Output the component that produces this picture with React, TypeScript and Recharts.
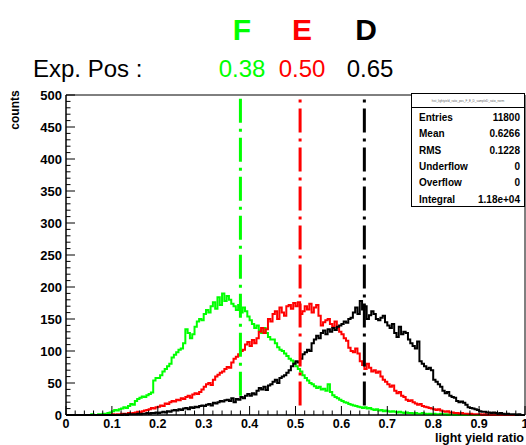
import { Line, LineChart, ReferenceArea, ReferenceLine, XAxis, YAxis } from "recharts";

// histogram bin width (light yield ratio)
const BIN = 0.005;

// counts per bin, sample F
const green = [
  0, 0, 0, 0, 0, 0, 0, 0, 0, 0,
  0, 1, 0, 0, 1, 1, 2, 1, 3, 4,
  6, 8, 7, 9, 10, 12, 11, 14, 17, 16,
  22, 25, 27, 29, 28, 31, 33, 35, 54, 58,
  58, 62, 68, 72, 76, 80, 90, 94, 98, 102,
  104, 112, 134, 128, 120, 126, 138, 146, 150, 148,
  158, 164, 160, 170, 176, 166, 184, 172, 190, 178,
  186, 180, 174, 170, 164, 172, 160, 168, 162, 154,
  148, 142, 136, 140, 132, 128, 136, 128, 122, 118,
  118, 112, 106, 102, 100, 96, 92, 88, 85, 82,
  76, 72, 68, 62, 58, 54, 50, 48, 45, 42,
  44, 40, 41, 38, 48, 36, 31, 28, 26, 24,
  22, 20, 19, 17, 16, 15, 14, 13, 12, 11,
  12, 10, 11, 9, 8, 9, 7, 8, 6, 7,
  6, 5, 6, 5, 4, 5, 4, 3, 4, 3,
  3, 2, 3, 2, 2, 3, 2, 1, 2, 1,
  2, 1, 1, 2, 1, 1, 0, 1, 1, 0,
  1, 0, 1, 0, 0, 1, 0, 0, 0, 0,
  0, 0, 0, 0, 0, 0, 0, 0, 0, 0,
  0, 0, 0, 0, 0, 0, 0, 0, 0, 0
];

// counts per bin, sample E
const red = [
  0, 0, 0, 0, 0, 0, 0, 0, 0, 0,
  0, 0, 0, 0, 0, 0, 0, 0, 0, 0,
  1, 0, 1, 1, 2, 2, 1, 3, 2, 3,
  4, 5, 4, 6, 7, 8, 9, 11, 10, 12,
  13, 15, 14, 18, 17, 20, 22, 21, 24, 23,
  26, 25, 28, 30, 27, 32, 34, 33, 36, 40,
  44, 48, 50, 47, 55, 60, 63, 66, 68, 72,
  75, 74, 82, 88, 91, 95, 100, 102, 110, 114,
  108, 117, 112, 120, 130, 136, 128, 134, 150, 146,
  158, 162, 150, 168, 160, 155, 170, 172, 166, 175,
  170, 176, 158, 162, 170, 165, 174, 160, 168, 172,
  155, 140, 145, 148, 150, 142, 138, 146, 136, 130,
  126, 120, 116, 105, 100, 98, 104, 96, 84, 78,
  72, 80, 74, 68, 70, 66, 68, 60, 55, 52,
  48, 44, 46, 38, 34, 36, 30, 28, 24, 22,
  23, 20, 18, 16, 17, 14, 13, 12, 11, 10,
  9, 8, 9, 7, 6, 5, 6, 4, 4, 3,
  3, 2, 3, 2, 2, 1, 2, 1, 1, 1,
  1, 0, 1, 0, 1, 0, 0, 1, 0, 0,
  0, 0, 0, 0, 0, 0, 0, 0, 0, 0
];

// counts per bin, sample D
const black = [
  0, 0, 0, 0, 0, 0, 0, 0, 0, 0,
  0, 0, 0, 0, 0, 0, 0, 0, 0, 0,
  0, 0, 0, 0, 0, 1, 0, 1, 1, 1,
  1, 2, 1, 2, 2, 3, 2, 3, 3, 4,
  3, 4, 5, 4, 6, 5, 7, 8, 7, 9,
  8, 10, 11, 9, 12, 11, 13, 12, 14, 15,
  14, 16, 17, 15, 19, 18, 20, 22, 21, 23,
  24, 22, 26, 20, 25, 24, 28, 26, 30, 33,
  30, 34, 32, 38, 42, 40, 44, 39, 46, 48,
  52, 55, 50, 58, 60, 62, 66, 70, 76, 80,
  84, 82, 88, 95, 98, 102, 100, 112, 118, 124,
  120, 128, 132, 126, 134, 130, 136, 133, 138, 140,
  142, 146, 144, 150, 152, 160, 168, 158, 178, 165,
  170, 150, 156, 162, 158, 150, 148, 152, 155, 145,
  140, 136, 142, 128, 122, 138, 126, 130, 128, 118,
  112, 108, 104, 115, 84, 80, 76, 72, 74, 70,
  55, 52, 48, 44, 38, 34, 36, 30, 28, 27,
  22, 20, 21, 19, 16, 12, 11, 10, 9, 8,
  6, 5, 5, 4, 4, 3, 4, 3, 2, 3,
  2, 1, 2, 1, 1, 1, 0, 1, 0, 0
];

const samples = ["F", "E", "D"];
const expPos = ["0.38", "0.50", "0.65"];
const markerX = [0.38, 0.51, 0.65];
const markerLow = [30, 15, 15];
const colors = ["#00ff00", "#ff0000", "#000000"];
const labelCenters = [242, 302, 366];

const statNames = ["Entries", "Mean", "RMS", "Underflow", "Overflow", "Integral"];
const statValues = ["11800", "0.6266", "0.1228", "0", "0", "1.18e+04"];

const xTicks = Array.from({ length: 51 }, (_, i) => +(i * 0.02).toFixed(2));
const yTicks = Array.from({ length: 51 }, (_, i) => i * 10);

const rows = green.map((g, i) => ({ x: +(i * BIN).toFixed(3), green: g, red: red[i], black: black[i] }));
rows.push({ x: 1, green: 0, red: 0, black: 0 });

const FONT = "'Liberation Sans', Arial, Helvetica, sans-serif";

const XTick = (props: any) => {
  const { x, y, payload } = props;
  const v = payload.value as number;
  const major = Math.abs(v * 10 - Math.round(v * 10)) < 1e-6;
  const label = v === 0 ? "0" : v === 1 ? "1" : v.toFixed(1);
  return (
    <g>
      <line x1={x} x2={x} y1={y} y2={y - (major ? 9 : 4.5)} stroke="#000" />
      {major && (
        <text x={x} y={y + 13} textAnchor="middle" fontWeight="bold" fontSize={12.5} fontFamily={FONT} fill="#000">
          {label}
        </text>
      )}
    </g>
  );
};

const YTick = (props: any) => {
  const { x, y, payload } = props;
  const v = payload.value as number;
  const major = v % 50 === 0;
  return (
    <g>
      <line x1={x} x2={x + (major ? 9 : 4.5)} y1={y} y2={y} stroke="#000" />
      {major && (
        <text x={x - 4} y={y + 5} textAnchor="end" fontWeight="bold" fontSize={13} fontFamily={FONT} fill="#000">
          {v}
        </text>
      )}
    </g>
  );
};

export default function App() {
  return (
    <div style={{ position: "absolute", left: 0, top: 0, width: 526, height: 445, background: "#fff" }}>
      <LineChart width={526} height={445} data={rows} margin={{ top: 95, right: 1, bottom: 0, left: 0 }}>
        <XAxis
          dataKey="x"
          type="number"
          domain={[0, 1]}
          ticks={xTicks}
          interval={0}
          height={30}
          tickSize={0}
          tickMargin={0}
          tickLine={false}
          tick={XTick}
          axisLine={{ stroke: "#000" }}
        />
        <YAxis
          type="number"
          domain={[0, 500]}
          ticks={yTicks}
          interval={0}
          width={66}
          tickSize={0}
          tickMargin={0}
          tickLine={false}
          tick={YTick}
          axisLine={{ stroke: "#000" }}
        />
        <ReferenceArea x1={0} x2={1} y1={0} y2={500} fill="none" stroke="#000" strokeWidth={1} />
        <Line type="stepAfter" dataKey="green" stroke={colors[0]} strokeWidth={2} dot={false} isAnimationActive={false} />
        <Line type="stepAfter" dataKey="red" stroke={colors[1]} strokeWidth={2} dot={false} isAnimationActive={false} />
        <Line type="stepAfter" dataKey="black" stroke={colors[2]} strokeWidth={2} dot={false} isAnimationActive={false} />
        {markerX.map((mx, i) => (
          <ReferenceLine
            key={samples[i]}
            segment={[
              { x: mx, y: markerLow[i] },
              { x: mx, y: 497 }
            ]}
            stroke={colors[i]}
            strokeWidth={3}
            strokeDasharray="24 6 3 6"
          />
        ))}
      </LineChart>
      <svg width={526} height={445} style={{ position: "absolute", left: 0, top: 0, pointerEvents: "none" }}>
        {samples.map((s, i) => (
          <text key={s} x={labelCenters[i]} y={40} textAnchor="middle" fontWeight="bold" fontSize={30} fontFamily={FONT} fill={colors[i]}>
            {s}
          </text>
        ))}
        <text x={33} y={77} fontSize={24} fontFamily={FONT} fill="#000">
          Exp. Pos :
        </text>
        {expPos.map((p, i) => (
          <text key={p} x={labelCenters[i] + (i === 2 ? 4 : 0)} y={77} textAnchor="middle" fontSize={24} fontFamily={FONT} fill={colors[i]}>
            {p}
          </text>
        ))}
        <text x={19} y={110} transform="rotate(-90 19 110)" textAnchor="middle" fontWeight="bold" fontSize={12} fontFamily={FONT} fill="#000">
          counts
        </text>
        <text x={524} y={442} textAnchor="end" fontWeight="bold" fontSize={12.5} fontFamily={FONT} fill="#000">
          light yield ratio
        </text>
        <rect x={411.5} y={93.5} width={113} height={113} fill="#fff" stroke="#000" />
        <text x={468} y={102} textAnchor="middle" fontSize={3} fontFamily={FONT} fill="#666">
          hist_lightyield_ratio_pos_F_E_D_sampleD_ratio_norm
        </text>
        <line x1={411.5} x2={524.5} y1={107.5} y2={107.5} stroke="#000" />
        {statNames.map((n, i) => (
          <g key={n}>
            <text x={419} y={121 + i * 16.3} fontWeight="bold" fontSize={10} fontFamily={FONT} fill="#000">
              {n}
            </text>
            <text x={520} y={121 + i * 16.3} textAnchor="end" fontWeight="bold" fontSize={10} fontFamily={FONT} fill="#000">
              {statValues[i]}
            </text>
          </g>
        ))}
      </svg>
    </div>
  );
}
